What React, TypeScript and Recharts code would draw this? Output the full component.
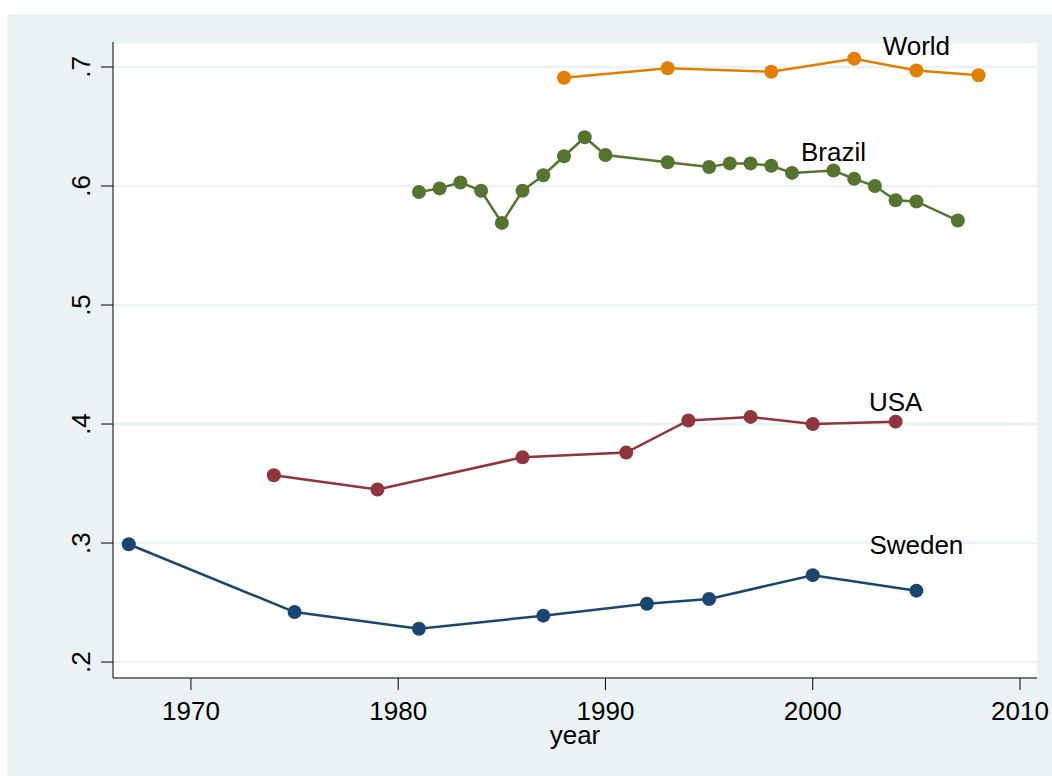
import React from 'react';
import { LineChart, Line, XAxis, YAxis, CartesianGrid, ReferenceDot } from 'recharts';

const swedenYears = [1967, 1975, 1981, 1987, 1992, 1995, 2000, 2005];
const swedenGini = [0.299, 0.242, 0.228, 0.239, 0.249, 0.253, 0.273, 0.26];

const usaYears = [1974, 1979, 1986, 1991, 1994, 1997, 2000, 2004];
const usaGini = [0.357, 0.345, 0.372, 0.376, 0.403, 0.406, 0.4, 0.402];

const brazilYears = [1981, 1982, 1983, 1984, 1985, 1986, 1987, 1988, 1989, 1990, 1993, 1995, 1996, 1997, 1998, 1999, 2001, 2002, 2003, 2004, 2005, 2007];
const brazilGini = [0.595, 0.598, 0.603, 0.596, 0.569, 0.596, 0.609, 0.625, 0.641, 0.626, 0.62, 0.616, 0.619, 0.619, 0.617, 0.611, 0.613, 0.606, 0.6, 0.588, 0.587, 0.571];

const worldYears = [1988, 1993, 1998, 2002, 2005, 2008];
const worldGini = [0.691, 0.699, 0.696, 0.707, 0.697, 0.693];

const xTicks = [1970, 1980, 1990, 2000, 2010];
const yTicks = [0.2, 0.3, 0.4, 0.5, 0.6, 0.7];

// text labels placed in data coordinates
const labelNames = ['World', 'Brazil', 'USA', 'Sweden'];
const labelYears = [2005, 2001, 2004, 2005];
const labelValues = [0.718, 0.629, 0.4187, 0.2983];

const FONT = '"Liberation Sans", Arial, Helvetica, sans-serif';
const FS = 26;

const toRows = (years: number[], vals: number[]) => years.map((year, i) => ({ year, v: vals[i] }));

const series = [
  { name: 'Sweden', color: '#1a476f', data: toRows(swedenYears, swedenGini) },
  { name: 'USA', color: '#90353b', data: toRows(usaYears, usaGini) },
  { name: 'Brazil', color: '#55752f', data: toRows(brazilYears, brazilGini) },
  { name: 'World', color: '#e37e00', data: toRows(worldYears, worldGini) },
];

const XTick = ({ x, y, payload }: any) => (
  <text x={x} y={y + 30} textAnchor="middle" fontSize={FS} fontFamily={FONT} fill="#000">
    {payload.value}
  </text>
);

const YTick = ({ x, y, payload }: any) => {
  const bx = x - 11;
  const label = payload.value.toFixed(1).replace(/^0/, '');
  return (
    <text x={bx} y={y} transform={`rotate(-90, ${bx}, ${y})`} textAnchor="middle" fontSize={FS} fontFamily={FONT} fill="#000">
      {label}
    </text>
  );
};

export default function App() {
  return (
    <div style={{ position: 'absolute', left: 0, top: 0, width: 1052, height: 776, background: '#fff', overflow: 'hidden' }}>
      <div style={{ position: 'absolute', left: 7, top: 14, width: 1045, height: 762, background: '#eaf2f3' }} />
      <div style={{ position: 'absolute', left: 0, top: 0 }}>
        <LineChart width={1052} height={776} margin={{ top: 42, right: 15, bottom: 32, left: 53 }}>
          <CartesianGrid vertical={false} fill="#ffffff" stroke="#eaf2f3" strokeWidth={2.5} />
          <XAxis
            type="number"
            dataKey="year"
            domain={[1966.24, 2010.82]}
            ticks={xTicks}
            allowDataOverflow
            height={66}
            tickSize={12}
            tickMargin={0}
            axisLine={{ stroke: '#000', strokeWidth: 1 }}
            tickLine={{ stroke: '#000', strokeWidth: 1 }}
            tick={<XTick />}
            label={{ value: 'year', position: 'insideBottom', offset: 0, fill: '#000', fontSize: FS, fontFamily: FONT }}
          />
          <YAxis
            type="number"
            domain={[0.1866, 0.721]}
            ticks={yTicks}
            allowDataOverflow
            width={60}
            tickSize={12}
            tickMargin={0}
            axisLine={{ stroke: '#000', strokeWidth: 1 }}
            tickLine={{ stroke: '#000', strokeWidth: 1 }}
            tick={<YTick />}
          />
          {series.map((s) => (
            <Line
              key={s.name}
              data={s.data}
              dataKey="v"
              name={s.name}
              type="linear"
              stroke={s.color}
              strokeWidth={2.5}
              dot={{ r: 7, fill: s.color, stroke: 'none' }}
              activeDot={false}
              isAnimationActive={false}
            />
          ))}
          {labelNames.map((name, i) => (
            <ReferenceDot
              key={name}
              x={labelYears[i]}
              y={labelValues[i]}
              r={0}
              fill="none"
              stroke="none"
              label={{ value: name, position: 'center', fill: '#000', fontSize: FS, fontFamily: FONT }}
            />
          ))}
        </LineChart>
      </div>
    </div>
  );
}
